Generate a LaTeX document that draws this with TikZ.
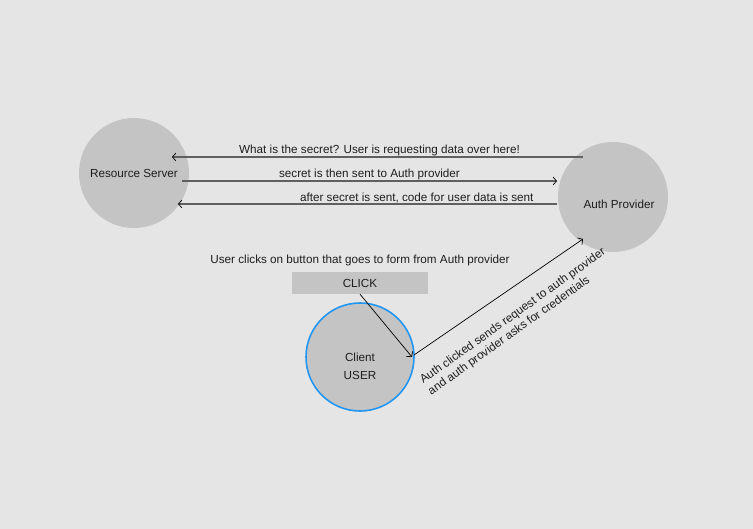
\documentclass[tikz,border=0pt]{standalone}
\usepackage{fontspec}
\setmainfont{Liberation Sans}
\usepackage{tikz}
\usetikzlibrary{arrows.meta, positioning, calc}
\definecolor{cBack}{RGB}{229,229,229}
\definecolor{cDisk}{RGB}{196,196,196}
\definecolor{cBlue}{RGB}{33,150,243}
\definecolor{cLine}{RGB}{96,96,96}
\definecolor{cText}{RGB}{30,30,30}
\tikzset{
	party/.style  ={circle, fill=cDisk, minimum size=110pt, inner sep=0pt, align=center, text=cText},
	button/.style ={rectangle, fill=cDisk, minimum width=136pt, minimum height=22pt, inner sep=0pt, text=cText},
	msg/.style    ={-{Straight Barb[length=3.5pt, width=8pt, line width=0.7pt, color=black]}, draw=cLine, line width=1.3pt},
	flow/.style   ={-{Straight Barb[length=3.5pt, width=8pt, line width=0.7pt]}, draw=black, line width=0.7pt},
	lab/.style    ={text=cText, inner sep=1.2pt},
	msglab/.style ={text=cText, inner sep=0pt, above},
}

\begin{document}
\begin{tikzpicture}[x=1pt, y=-1pt, font=\fontsize{11.7}{14}\selectfont]
	\fill[cBack] (0,0) rectangle (753,529);
	\useasboundingbox (0,0) rectangle (753,529);
	% parties
	\node[party] (res) at (134,173) {Resource Server};
	\node[party] (auth) at (613,197) {};
	\node[lab] (authtxt) at (619,204) {Auth Provider};
	\node[party, draw=cBlue, line width=1.6pt, minimum size=108pt] (client) at (360,357) {};
	\node[lab, align=center] (clienttxt) at (360,366) {Client\\[4pt]USER};
	\node[button] (click) at (360,283) {CLICK};
	\node[lab, above=4pt of click] (hint) {User clicks on button that goes to form from Auth provider};
	% messages between server and provider
	\draw[msg] ([shift={(-30,-40)}]auth.center) -- node[msglab, xshift=2pt] {What is the secret? User is requesting data over here!} ([shift={(38,-16)}]res.center);
	\draw[msg] ([shift={(48,8)}]res.center) -- node[msglab] {secret is then sent to Auth provider} ([shift={(-56,-16)}]auth.center);
	\draw[msg] ([shift={(-56,7)}]auth.center) -- node[msglab, pos=0.37] {after secret is sent, code for user data is sent} ([shift={(44,31)}]res.center);
	% client flow
	\draw[flow] (click.south) -- ([shift={(52,0)}]client.center);
	\draw[flow] ([shift={(54,-2)}]client.center) -- ([shift={(-30,42)}]auth.center);
	\node[lab, rotate=35.5, align=left] (note) at (517,322) {Auth clicked sends request to auth provider\\and auth provider asks for credentials};
\end{tikzpicture}
\end{document}
